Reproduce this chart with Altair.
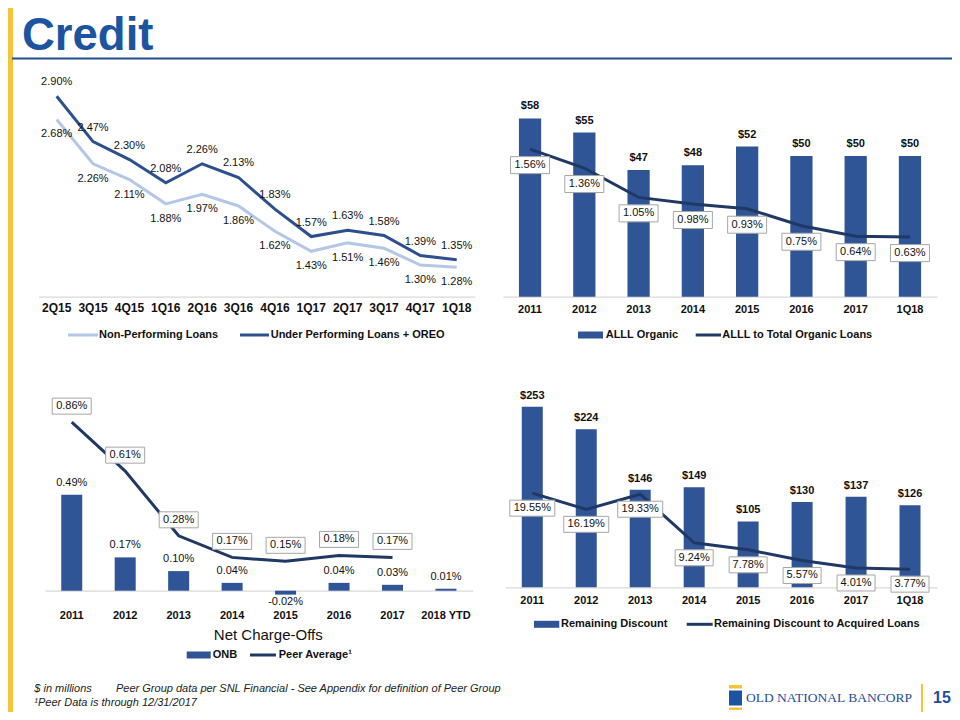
import altair as alt
import pandas as pd

# ------------------------------------------------------------------ data
tl_quarters = ['2Q15', '3Q15', '4Q15', '1Q16', '2Q16', '3Q16', '4Q16', '1Q17', '2Q17', '3Q17', '4Q17', '1Q18']
tl_npl = [2.68, 2.26, 2.11, 1.88, 1.97, 1.86, 1.62, 1.43, 1.51, 1.46, 1.30, 1.28]
tl_upl_oreo = [2.90, 2.47, 2.30, 2.08, 2.26, 2.13, 1.83, 1.57, 1.63, 1.58, 1.39, 1.35]

tr_periods = ['2011', '2012', '2013', '2014', '2015', '2016', '2017', '1Q18']
tr_alll = [58, 55, 47, 48, 52, 50, 50, 50]
tr_alll_ratio = [1.56, 1.36, 1.05, 0.98, 0.93, 0.75, 0.64, 0.63]

bl_periods = ['2011', '2012', '2013', '2014', '2015', '2016', '2017', '2018 YTD']
bl_onb = [0.49, 0.17, 0.10, 0.04, -0.02, 0.04, 0.03, 0.01]
bl_peer = [0.86, 0.61, 0.28, 0.17, 0.15, 0.18, 0.17, None]

br_periods = ['2011', '2012', '2013', '2014', '2015', '2016', '2017', '1Q18']
br_discount = [253, 224, 146, 149, 105, 130, 137, 126]
br_discount_pct = [19.55, 16.19, 19.33, 9.24, 7.78, 5.57, 4.01, 3.77]

# ------------------------------------------------------------------ style
FONT = 'Liberation Sans'
BAR_BLUE = '#2F5597'
NAVY = '#1F3864'
UPL_BLUE = '#2C4F8E'
NPL_LIGHT = '#B4C7E7'
TITLE_BLUE = '#1B55A0'
YELLOW = '#F8C23B'
AXIS_GREY = '#D9D9D9'
BOX_GREY = '#A6A6A6'
TXT = '#111111'
W, H = 944, 704
ONE = pd.DataFrame({'k': [0]})


def pct(vals):
    return [None if v is None else f'{v:.2f}%' for v in vals]


def dollars(vals):
    return [f'${v:,.0f}' for v in vals]


def x_band(cats, r0, r1, pad_inner, axis_y, label_pad=7, label_size=11):
    axis = alt.Axis(orient='bottom', offset=axis_y - H, title=None, ticks=False, tickSize=0,
                    grid=False, domainColor=AXIS_GREY, domainWidth=1.2, labelFont=FONT,
                    labelFontSize=label_size, labelFontWeight='bold', labelColor=TXT,
                    labelPadding=label_pad, labelAngle=0, labelOverlap=False)
    return alt.X('cat:N', sort=cats, axis=axis,
                 scale=alt.Scale(type='band', domain=cats, range=[r0, r1],
                                 paddingInner=pad_inner, paddingOuter=pad_inner / 2))


def y_lin(field, d0, d1, r0, r1):
    return alt.Y(f'{field}:Q', axis=None,
                 scale=alt.Scale(domain=[d0, d1], range=[r0, r1], nice=False, zero=False))


def box_shape(w, h):
    k = h / w
    return f'M-1,{-k:.4f}L1,{-k:.4f}L1,{k:.4f}L-1,{k:.4f}Z'


def label_text(dy, weight='normal', size=11, baseline='middle'):
    return dict(dy=dy, font=FONT, fontSize=size, fontWeight=weight, color=TXT, baseline=baseline)


def rect_px(x0, x1, y0, y1, color):
    return alt.Chart(ONE).mark_rect(color=color).encode(
        x=alt.value(x0), x2=alt.value(x1), y=alt.value(y0), y2=alt.value(y1))


def hrule_px(x0, x1, y, color, w):
    return alt.Chart(ONE).mark_rule(color=color, strokeWidth=w).encode(
        x=alt.value(x0), x2=alt.value(x1), y=alt.value(y))


def vrule_px(x, y0, y1, color, w):
    return alt.Chart(ONE).mark_rule(color=color, strokeWidth=w).encode(
        x=alt.value(x), y=alt.value(y0), y2=alt.value(y1))


def text_px(x, y, txt, size=11, weight='normal', align='left', color=TXT, style='normal',
            font=FONT, baseline='middle'):
    return alt.Chart(ONE).mark_text(text=txt, align=align, baseline=baseline, fontSize=size,
                                    fontWeight=weight, font=font, color=color,
                                    fontStyle=style).encode(x=alt.value(x), y=alt.value(y))


def legend_bar(x0, x1, y, tx, label):
    return [rect_px(x0, x1, y - 3.5, y + 3.5, BAR_BLUE),
            text_px(tx, y, label, weight='bold')]


def legend_line(x0, x1, y, tx, label, color):
    return [hrule_px(x0, x1, y, color, 3), text_px(tx, y, label, weight='bold')]


# ------------------------------------------------------------------ top-left
df_tl = pd.DataFrame({'cat': tl_quarters, 'npl': tl_npl, 'upl': tl_upl_oreo,
                      'npl_lbl': pct(tl_npl), 'upl_lbl': pct(tl_upl_oreo)})


def xtl():
    return x_band(tl_quarters, 30.5, 466.9, 0.0, 288.7, label_pad=6, label_size=12)


def ytl(f):
    return y_lin(f, 1.0, 3.0, 288.7, 77.7)


b = alt.Chart(df_tl)
top_left = alt.layer(
    b.mark_line(color=NPL_LIGHT, strokeWidth=3).encode(x=xtl(), y=ytl('npl')),
    b.mark_line(color=UPL_BLUE, strokeWidth=3).encode(x=xtl(), y=ytl('upl')),
    b.mark_text(**label_text(15)).encode(x=xtl(), y=ytl('npl'), text='npl_lbl:N'),
    b.mark_text(**label_text(-14)).encode(x=xtl(), y=ytl('upl'), text='upl_lbl:N'),
)

# ------------------------------------------------------------------ top-right
df_tr = pd.DataFrame({'cat': tr_periods, 'alll': tr_alll, 'ratio': tr_alll_ratio,
                      'alll_lbl': dollars(tr_alll), 'ratio_lbl': pct(tr_alll_ratio)})


def xtr():
    return x_band(tr_periods, 494.9, 929.1, 0.59, 288.7)


def ytr_bar():
    return y_lin('alll', 20, 62, 288.7, 91.7)


def ytr_line():
    return y_lin('ratio', 0, 2, 288.7, 99.5)


b = alt.Chart(df_tr)
tr_bars = alt.layer(
    b.mark_bar(color=BAR_BLUE).encode(x=xtr(), y=ytr_bar(), y2=alt.datum(20)),
    b.mark_text(**label_text(-12, 'bold')).encode(x=xtr(), y=ytr_bar(), text='alll_lbl:N'),
)
tr_line = alt.layer(
    b.mark_line(color=NAVY, strokeWidth=3).encode(x=xtr(), y=ytr_line()),
    b.mark_point(shape=box_shape(39, 17), size=39 ** 2, filled=True, fill='white', stroke=BOX_GREY,
                 strokeWidth=1, opacity=1, yOffset=16).encode(x=xtr(), y=ytr_line()),
    b.mark_text(**label_text(16)).encode(x=xtr(), y=ytr_line(), text='ratio_lbl:N'),
)
top_right = alt.layer(tr_bars, tr_line).resolve_scale(y='independent')

# ------------------------------------------------------------------ bottom-left
df_bl = pd.DataFrame({'cat': bl_periods, 'onb': bl_onb, 'onb_lbl': pct(bl_onb)})
df_peer = pd.DataFrame({'cat': bl_periods, 'peer': bl_peer, 'peer_lbl': pct(bl_peer)}).dropna()


def xbl():
    return x_band(bl_periods, 37.0, 464.7, 0.607, 582.7, label_pad=19)


def ybl(f):
    return y_lin(f, -0.2, 1.0, 621.9, 386.7)


b = alt.Chart(df_bl)
p = alt.Chart(df_peer)
bottom_left = alt.layer(
    b.mark_bar(color=BAR_BLUE).encode(x=xbl(), y=ybl('onb'), y2=alt.datum(0)),
    b.mark_text(**label_text(-12)).encode(x=xbl(), y=ybl('onb'), text='onb_lbl:N')
     .transform_filter('datum.onb >= 0'),
    b.mark_text(**label_text(7)).encode(x=xbl(), y=ybl('onb'), text='onb_lbl:N')
     .transform_filter('datum.onb < 0'),
    p.mark_line(color=NAVY, strokeWidth=3).encode(x=xbl(), y=ybl('peer')),
    p.mark_point(shape=box_shape(39, 16), size=39 ** 2, filled=True, fill='white', stroke=BOX_GREY,
                 strokeWidth=1, opacity=1, yOffset=-16).encode(x=xbl(), y=ybl('peer')),
    p.mark_text(**label_text(-16)).encode(x=xbl(), y=ybl('peer'), text='peer_lbl:N'),
)

# ------------------------------------------------------------------ bottom-right
df_br = pd.DataFrame({'cat': br_periods, 'disc': br_discount, 'pct': br_discount_pct,
                      'disc_lbl': dollars(br_discount), 'pct_lbl': pct(br_discount_pct)})
df_br['wide'] = df_br['pct_lbl'].str.len() > 5


def xbr():
    return x_band(br_periods, 497.3, 929.0, 0.611, 579.3)


def ybr_bar():
    return y_lin('disc', 20, 270, 579.3, 385.55)


def ybr_line():
    return y_lin('pct', 0, 20, 579.3, 483.0)


b = alt.Chart(df_br)
br_bars = alt.layer(
    b.mark_bar(color=BAR_BLUE).encode(x=xbr(), y=ybr_bar(), y2=alt.datum(20)),
    b.mark_text(**label_text(-11, 'bold')).encode(x=xbr(), y=ybr_bar(), text='disc_lbl:N'),
)
br_line = alt.layer(
    b.mark_line(color=NAVY, strokeWidth=3).encode(x=xbr(), y=ybr_line()),
    b.mark_point(shape=box_shape(45, 16), size=45 ** 2, filled=True, fill='white', stroke=BOX_GREY,
                 strokeWidth=1, opacity=1, yOffset=15).encode(
        x=xbr(), y=ybr_line()).transform_filter('datum.wide'),
    b.mark_point(shape=box_shape(38, 16), size=38 ** 2, filled=True, fill='white', stroke=BOX_GREY,
                 strokeWidth=1, opacity=1, yOffset=15).encode(
        x=xbr(), y=ybr_line()).transform_filter('!datum.wide'),
    b.mark_text(**label_text(15)).encode(x=xbr(), y=ybr_line(), text='pct_lbl:N'),
)
bottom_right = alt.layer(br_bars, br_line).resolve_scale(y='independent')

# ------------------------------------------------------------------ decorations
decor = [
    rect_px(0, 5, 0, H, YELLOW),
    text_px(14, 41.5, 'Credit', size=45.5, weight='bold', color=TITLE_BLUE, baseline='alphabetic'),
    hrule_px(4, W, 50.5, '#1F4E8C', 2),
    text_px(260.3, 627, 'Net Charge-Offs', size=15, align='center'),
    text_px(26.3, 681, '$ in millions', size=11, style='italic', color='#222222'),
    text_px(108, 681, 'Peer Group data per SNL Financial - See Appendix for definition of Peer Group',
            size=11, style='italic', color='#222222'),
    text_px(26.3, 695, '\u00b9Peer Data is through 12/31/2017', size=11, style='italic',
            color='#222222'),
    # logo
    rect_px(721, 734, 677, 680.5, YELLOW),
    rect_px(721, 734, 682.5, 697.5, TITLE_BLUE),
    rect_px(721, 734, 699.5, 702, YELLOW),
    text_px(738, 690, 'OLD NATIONAL BANCORP', size=13.5, color='#1F4E9A', font='Liberation Serif'),
    vrule_px(914, 676, 704, YELLOW, 2),
    text_px(925, 690, '15', size=16, weight='bold', color='#1F4E9A'),
]
decor += legend_line(60, 90, 327, 91, 'Non-Performing Loans', NPL_LIGHT)
decor += legend_line(232, 261, 327, 262.7, 'Under Performing Loans + OREO', UPL_BLUE)
decor += legend_bar(570, 595, 327, 597.7, 'ALLL Organic')
decor += legend_line(687.7, 713, 327, 714.3, 'ALLL to Total Organic Loans', NAVY)
decor += legend_bar(178.7, 202.7, 647, 204.7, 'ONB')
decor += legend_line(242, 268, 647, 270.7, 'Peer Average\u00b9', NAVY)
decor += legend_bar(526, 551.3, 616.3, 553, 'Remaining Discount')
decor += legend_line(678.7, 704.7, 616.3, 706, 'Remaining Discount to Acquired Loans', NAVY)

chart = alt.layer(*decor, top_left, top_right, bottom_left, bottom_right).resolve_scale(
    x='independent', y='independent'
).properties(
    width=W, height=H, padding=0, autosize=alt.AutoSizeParams(type='none'), background='white'
).configure_view(stroke=None)

chart.save('out.html', embed_options={'renderer': 'svg', 'actions': False})
